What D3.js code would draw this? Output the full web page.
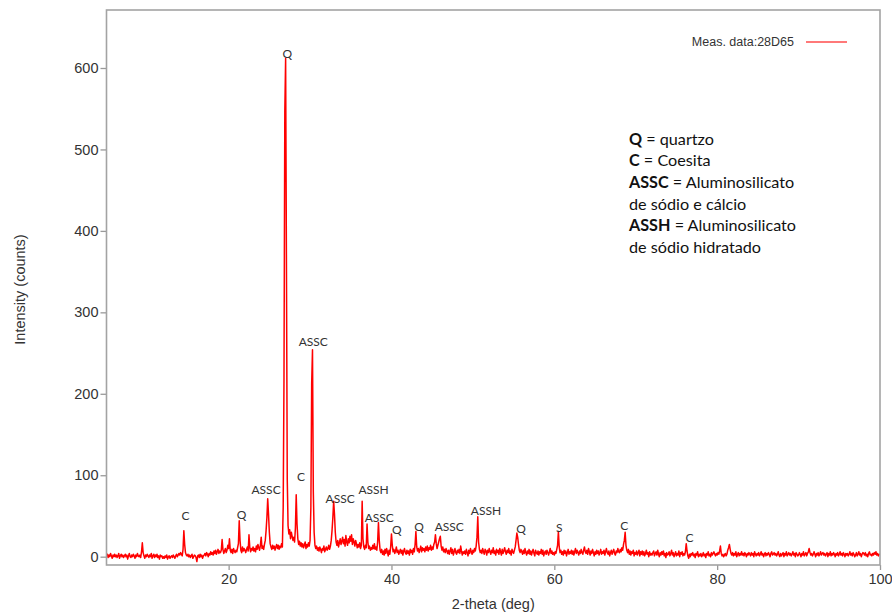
<!DOCTYPE html>
<html>
<head>
<meta charset="utf-8">
<script src="https://cdn.jsdelivr.net/npm/d3@7.9.0/dist/d3.min.js"></script>
<style>
  body { margin: 0; background: #fff; }
  svg { display: block; }
  .tick text { font-family: "Liberation Sans", Arial, sans-serif; font-size: 14.5px; fill: #333; }
</style>
</head>
<body>
<svg width="892" height="613"></svg>
<script>
// scan: 2-theta from 5 to 100 deg, one reading every 0.1 deg
const thetaStart = 5;
const thetaStep = 0.1;
const counts = [
  1,3,-1,2,0,4,1,-2,2,0,        // 5
  3,0,2,-1,1,4,-2,1,3,0,        // 6
  2,-1,1,3,0,2,-3,1,4,0,        // 7
  -1,2,0,3,1,-2,2,0,4,1,        // 8
  0,2,-1,6,17,5,1,-2,2,0,       // 9
  3,1,-1,2,0,4,-2,1,3,-1,       // 10
  2,0,3,-1,1,-3,2,0,1,-2,       // 11
  0,-2,1,-1,2,-3,0,1,-2,0,      // 12
  1,-1,2,0,-2,1,3,0,2,4,        // 13
  2,5,3,1,9,32,15,5,2,1,        // 14
  3,0,2,-1,1,3,-2,0,2,1,        // 15
  -1,-6,1,2,-1,3,0,2,-2,1,      // 16
  2,4,1,5,3,0,4,2,6,3,          // 17
  5,2,7,4,8,3,6,9,4,7,          // 18
  5,8,21,9,4,7,10,5,8,14,       // 19
  10,22,8,5,9,4,10,7,5,8,       // 20
  6,11,16,44,20,8,5,12,7,10,    // 21
  8,5,9,12,7,27,11,6,10,8,      // 22
  12,7,10,6,13,9,15,11,8,14,    // 23
  24,10,13,9,15,20,32,48,71,52, // 24
  30,16,12,9,14,10,13,8,12,15,  // 25
  10,14,9,13,11,16,12,60,220,546, // 26
  612,361,95,38,28,33,22,30,25,20, // 27
  24,18,35,76,40,22,15,19,13,17, // 28
  12,16,11,14,18,10,15,12,17,13, // 29
  20,60,213,254,80,30,14,10,13,8, // 30
  11,7,12,9,5,10,8,13,6,9,      // 31
  12,8,10,14,9,13,20,32,48,68,  // 32
  52,30,18,14,20,12,17,22,15,19, // 33
  24,16,21,13,26,18,14,22,17,25, // 34
  19,27,15,22,18,13,20,16,11,15, // 35
  12,17,10,14,68,22,12,9,14,11, // 36
  40,18,10,13,8,11,9,14,10,16,  // 37
  9,12,8,18,42,20,8,5,9,3,      // 38
  7,2,9,4,10,6,1,8,3,12,        // 39
  28,14,6,9,4,7,12,5,8,3,       // 40
  6,9,4,8,2,7,10,5,3,8,         // 41
  4,7,2,9,5,8,3,10,6,15,        // 42
  31,12,7,10,5,9,13,6,11,8,     // 43
  10,6,12,8,13,7,11,9,14,8,     // 44
  12,9,15,18,27,16,10,14,18,22, // 45
  25,13,8,12,6,9,5,10,7,4,      // 46
  8,3,7,11,4,9,2,6,10,5,        // 47
  3,8,5,9,4,13,7,2,6,4,         // 48
  7,3,9,5,1,8,4,10,6,3,         // 49
  8,5,10,7,13,24,49,18,9,5,     // 50
  8,4,10,6,3,9,7,2,8,5,         // 51
  10,6,3,8,5,11,4,7,2,9,        // 52
  5,8,3,10,6,2,9,4,7,11,        // 53
  6,3,8,5,10,4,7,2,9,6,         // 54
  4,8,12,20,29,24,15,8,5,9,     // 55
  6,3,8,4,10,5,2,7,4,9,         // 56
  3,7,2,6,9,4,1,8,5,3,          // 57
  7,2,6,4,9,3,8,1,5,7,          // 58
  3,8,5,2,6,10,4,7,3,5,         // 59
  2,6,4,9,14,31,12,5,8,3,       // 60
  6,2,8,4,7,1,5,9,3,6,          // 61
  4,8,3,7,2,6,10,4,8,5,         // 62
  2,7,4,9,5,3,8,12,6,4,         // 63
  8,3,10,6,2,7,4,9,5,1,         // 64
  6,3,8,4,7,2,5,9,3,6,          // 65
  4,8,2,6,10,5,3,7,1,5,         // 66
  8,3,6,9,4,2,7,5,10,6,         // 67
  5,9,6,11,8,15,20,30,14,8,     // 68
  5,9,3,7,2,6,4,8,1,5,          // 69
  3,7,2,5,8,1,6,3,7,2,          // 70
  6,1,4,8,3,5,0,6,2,4,          // 71
  2,5,7,1,4,6,2,8,3,0,          // 72
  5,2,6,3,7,1,4,-1,5,2,         // 73
  3,6,1,4,8,2,5,0,3,6,          // 74
  1,4,2,7,0,5,3,6,1,4,          // 75
  2,6,16,7,1,-2,3,0,4,2,        // 76
  5,1,3,-1,4,2,6,0,3,1,         // 77
  4,0,2,5,1,3,-1,4,2,6,         // 78
  1,3,0,5,2,4,6,3,1,4,          // 79
  2,5,3,7,13,4,1,3,0,2,         // 80
  4,1,3,8,11,15,9,4,2,5,        // 81
  1,4,2,6,0,3,5,1,4,2,          // 82
  6,2,4,1,5,3,0,4,2,5,          // 83
  3,1,5,2,4,0,6,3,1,4,          // 84
  2,5,1,3,6,2,4,0,3,5,          // 85
  1,4,2,5,3,0,4,6,2,3,          // 86
  5,2,4,1,3,6,2,0,4,1,          // 87
  3,5,0,4,2,6,1,3,5,2,          // 88
  4,1,3,6,2,4,0,5,3,1,          // 89
  2,5,3,0,4,2,6,1,3,5,          // 90
  1,4,6,10,5,2,4,1,3,6,         // 91
  3,0,4,2,5,1,3,6,2,4,          // 92
  5,2,4,1,3,5,0,4,2,6,          // 93
  1,4,2,5,3,0,4,2,5,1,          // 94
  3,6,2,4,1,5,3,0,4,2,          // 95
  4,1,3,6,2,4,1,5,3,0,          // 96
  2,5,1,3,6,2,4,0,3,5,          // 97
  4,2,5,1,3,0,4,6,2,3,          // 98
  1,4,2,5,3,6,2,4,1,3,          // 99
  2                             // 100
];

// phase labels over the peaks
const peakLabels = ["C", "Q", "ASSC", "Q", "C", "ASSC", "ASSC", "ASSH", "ASSC", "Q", "Q", "ASSC", "ASSH", "Q", "S", "C", "C"];
const peakLabelTheta = [14.7, 21.6, 24.6, 27.2, 28.9, 30.4, 33.7, 37.8, 38.5, 40.65, 43.4, 47.1, 51.6, 55.9, 60.6, 68.6, 76.6];
const peakLabelCount = [50, 52, 82, 618, 98, 264, 71, 82, 48, 33, 37, 37, 57, 35, 36, 38, 24];

const xTicks = [20, 40, 60, 80, 100];
const yTicks = [0, 100, 200, 300, 400, 500, 600];

// legend key text: [bold part, rest]
const keyLines = [
  ["Q", " = quartzo"],
  ["C", " = Coesita"],
  ["ASSC", " = Aluminosilicato"],
  ["", "de sódio e cálcio"],
  ["ASSH", " = Aluminosilicato"],
  ["", "de sódio hidratado"]
];
const seriesName = "Meas. data:28D65";

const svg = d3.select("svg");
const plotL = 106.5, plotR = 880, plotT = 10, plotB = 565;

let x = d3.scaleLinear().domain([5, 100]).range([plotL, plotR]);
let y = d3.scaleLinear().domain([-10.2, 671.2]).range([plotB, plotT]);

// axes
let xAxis = d3.axisBottom(x).tickValues(xTicks).tickSize(5).tickPadding(4);
let yAxis = d3.axisLeft(y).tickValues(yTicks).tickSize(6).tickPadding(2);

svg.append("g").attr("transform", `translate(0,${plotB})`).call(xAxis)
  .call(g => g.select(".domain").remove());
svg.append("g").attr("transform", `translate(${plotL},0)`).call(yAxis)
  .call(g => g.select(".domain").remove());
svg.selectAll(".tick line").attr("stroke", "#999").attr("stroke-width", 1.3);

// the scan itself
let line = d3.line()
  .x((d, i) => x(thetaStart + i * thetaStep))
  .y(d => y(d));

svg.append("defs").append("clipPath").attr("id", "plotclip")
  .append("rect").attr("x", plotL).attr("y", plotT)
  .attr("width", plotR - plotL).attr("height", plotB - plotT);

svg.append("path")
  .datum(counts)
  .attr("clip-path", "url(#plotclip)")
  .attr("d", line)
  .attr("fill", "none")
  .attr("stroke", "#ff0000")
  .attr("stroke-width", 1.5)
  .attr("stroke-linejoin", "round");

// frame
svg.append("rect")
  .attr("x", plotL).attr("y", plotT)
  .attr("width", plotR - plotL).attr("height", plotB - plotT)
  .attr("fill", "none").attr("stroke", "#a3a3a3").attr("stroke-width", 1.6);

// peak labels
svg.append("g").selectAll("text")
  .data(peakLabels)
  .join("text")
  .attr("x", (d, i) => x(peakLabelTheta[i]))
  .attr("y", (d, i) => y(peakLabelCount[i]))
  .attr("text-anchor", "middle")
  .attr("dominant-baseline", "central")
  .attr("font-family", "Lato, 'Open Sans', sans-serif")
  .attr("font-size", 12)
  .attr("fill", "#333")
  .text(d => d);

// series legend
svg.append("text")
  .attr("x", 794).attr("y", 42)
  .attr("text-anchor", "end")
  .attr("dominant-baseline", "central")
  .attr("font-family", "'Liberation Sans', Arial, sans-serif")
  .attr("font-size", 12.5)
  .attr("fill", "#333")
  .text(seriesName);
svg.append("line")
  .attr("x1", 806).attr("x2", 847).attr("y1", 42).attr("y2", 42)
  .attr("stroke", "#ff4d4d").attr("stroke-width", 1.5);

// key
let key = svg.append("g").selectAll("text")
  .data(keyLines)
  .join("text")
  .attr("x", 629)
  .attr("y", (d, i) => 137.5 + i * 21.7)
  .attr("dominant-baseline", "central")
  .attr("font-family", "Lato, 'Open Sans', sans-serif")
  .attr("font-size", 16.2)
  .attr("fill", "#111");
key.append("tspan").attr("font-weight", "bold").text(d => d[0]);
key.append("tspan").text(d => d[1]);

// axis titles
svg.append("text")
  .attr("x", (plotL + plotR) / 2).attr("y", 604)
  .attr("text-anchor", "middle").attr("dominant-baseline", "central")
  .attr("font-family", "'Liberation Sans', Arial, sans-serif")
  .attr("font-size", 14.5).attr("fill", "#333")
  .text("2-theta (deg)");
svg.append("text")
  .attr("transform", `translate(20,${(plotT + plotB) / 2 + 2}) rotate(-90)`)
  .attr("text-anchor", "middle").attr("dominant-baseline", "central")
  .attr("font-family", "'Liberation Sans', Arial, sans-serif")
  .attr("font-size", 14.5).attr("fill", "#333")
  .text("Intensity (counts)");
</script>
</body>
</html>
